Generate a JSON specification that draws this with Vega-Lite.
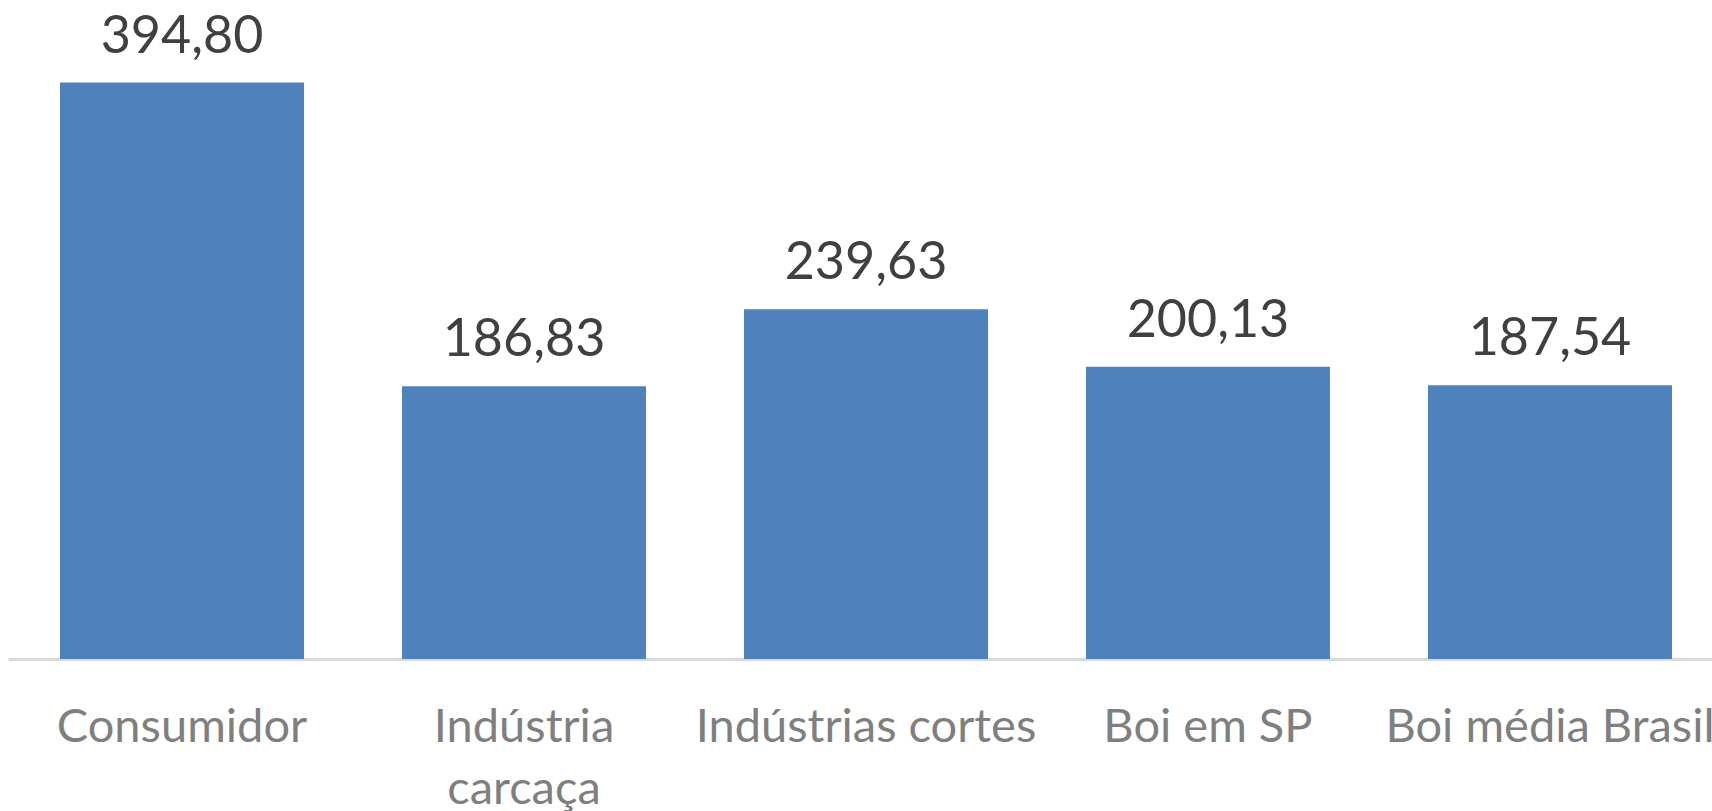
{
  "$schema": "https://vega.github.io/schema/vega-lite/v6.json",
  "width": 1704,
  "height": 584,
  "autosize": "none",
  "padding": {"left": 8, "top": 75, "right": 0, "bottom": 152},
  "config": {
    "view": {"stroke": null},
    "locale": {"number": {"decimal": ",", "thousands": ".", "grouping": [3], "currency": ["R$", ""]}}
  },
  "data": {
    "values": [
      {"categoria": "Consumidor", "valor": 394.80},
      {"categoria": "Indústria carcaça", "valor": 186.83},
      {"categoria": "Indústrias cortes", "valor": 239.63},
      {"categoria": "Boi em SP", "valor": 200.13},
      {"categoria": "Boi média Brasil", "valor": 187.54}
    ]
  },
  "encoding": {
    "x": {
      "field": "categoria",
      "type": "nominal",
      "sort": null,
      "scale": {"paddingInner": 0.2865, "paddingOuter": 0.1345, "align": 0.565},
      "axis": {
        "title": null,
        "labelAngle": 0,
        "ticks": false,
        "domainColor": "#d9d9d9",
        "domainWidth": 3,
        "labelFont": "Lato",
        "labelFontSize": 47,
        "labelColor": "#7f7f7f",
        "labelPadding": 45,
        "labelLineHeight": 62,
        "labelLimit": 0,
        "labelExpr": "datum.label == 'Indústria carcaça' ? ['Indústria', 'carcaça'] : datum.label"
      }
    },
    "y": {
      "field": "valor",
      "type": "quantitative",
      "scale": {"domain": [0, 400], "nice": false},
      "axis": null
    }
  },
  "layer": [
    {"mark": {"type": "bar", "color": "#4f81bd"}},
    {
      "mark": {"type": "text", "font": "Lato", "fontSize": 52, "color": "#404040", "baseline": "alphabetic", "dy": -30},
      "encoding": {"text": {"field": "valor", "type": "quantitative", "format": ".2f"}}
    }
  ]
}
